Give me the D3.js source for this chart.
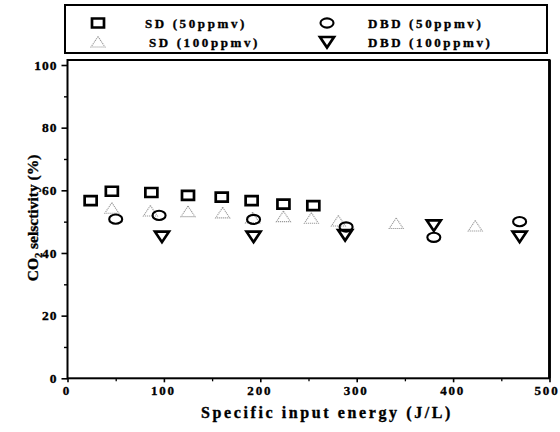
<!DOCTYPE html>
<html>
<head>
<meta charset="utf-8">
<script src="https://cdn.jsdelivr.net/npm/d3@7"></script>
<style>
  html, body { margin: 0; padding: 0; background: #fff; }
  svg { display: block; }
  text { font-family: "Liberation Serif", "Times New Roman", serif; font-weight: bold; fill: #000;
         stroke: #000; stroke-width: 0.35px; }
</style>
</head>
<body>
<svg id="chart" width="560" height="432"></svg>
<script>
// Specific input energy (J/L) and CO2 selectivity (%) for each discharge type
const sd50X   = [24, 46, 87, 125, 160, 191, 224, 255];
const sd50Y   = [56.7, 59.7, 59.3, 58.4, 57.8, 56.7, 55.6, 55.1];
const sd100X  = [46, 86, 125, 161, 192, 224, 253, 281, 341, 423];
const sd100Y  = [54.3, 53.4, 53.2, 52.8, 51.2, 51.6, 51.1, 50.2, 49.4, 48.6];
const dbd50X  = [50, 95, 193, 289, 380, 469];
const dbd50Y  = [50.8, 52.0, 50.7, 48.3, 45.0, 50.0];
const dbd100X = [98, 193, 288, 380, 469];
const dbd100Y = [45.2, 45.2, 45.7, 48.8, 45.2];

const xTicks = [0, 100, 200, 300, 400, 500];
const xMinor = [50, 150, 250, 350, 450];
const yTicks = [0, 20, 40, 60, 80, 100];
const yMinor = [10, 30, 50, 70, 90];

const seriesNames = ["SD (50ppmv)", "DBD (50ppmv)", "SD (100ppmv)", "DBD (100ppmv)"];

const svg = d3.select("#chart");
const x = d3.scaleLinear().domain([0, 500]).range([67.5, 549.5]);
const y = d3.scaleLinear().domain([0, 100]).range([378.3, 65]);

const frame = { left: 67.5, right: 549.5, top: 60, bottom: 378.3 };

// marker path generators, centred on (0,0)
const shapes = {
  square: () => "M-6,-4.5H6V4.5H-6Z",
  circle: () => "M-6.5,0A6.5,4.6 0 1,0 6.5,0A6.5,4.6 0 1,0 -6.5,0Z",
  up:     () => "M0,-5.5L7,5L-7,5Z",
  down:   () => "M-7,-5L7,-5L0,5.5Z"
};
const styles = {
  square: { stroke: "#000", width: 2.7, dash: null },
  circle: { stroke: "#000", width: 2.1, dash: null },
  up:     { stroke: "#9a9a9a", width: 1.1, dash: "1.2,0.8" },
  down:   { stroke: "#000", width: 2.7, dash: null }
};

// plot frame
svg.append("rect")
  .attr("x", frame.left).attr("y", frame.top)
  .attr("width", frame.right - frame.left).attr("height", frame.bottom - frame.top)
  .attr("fill", "none").attr("stroke", "#000").attr("stroke-width", 2);
svg.append("line")
  .attr("x1", frame.right).attr("x2", frame.right)
  .attr("y1", frame.top).attr("y2", frame.bottom)
  .attr("stroke", "#000").attr("stroke-width", 2.8);

// y axis
const yAxis = svg.append("g").attr("transform", `translate(${frame.left},0)`)
  .call(d3.axisLeft(y).tickValues(yTicks).tickSize(6).tickPadding(5).tickSizeOuter(0));
yAxis.select(".domain").remove();
yAxis.selectAll("line").attr("stroke-width", 1.6);
yAxis.selectAll("text").style("font-size", "13.5px").style("letter-spacing", "1px").attr("dx", 1);
const yMinorG = svg.append("g").attr("transform", `translate(${frame.left},0)`)
  .call(d3.axisLeft(y).tickValues(yMinor).tickSize(3.5).tickFormat(""));
yMinorG.select(".domain").remove();
yMinorG.selectAll("line").attr("stroke-width", 1.4);

// x axis
const xAxis = svg.append("g").attr("transform", `translate(0,${frame.bottom})`)
  .call(d3.axisBottom(x).tickValues(xTicks).tickSize(4).tickPadding(3).tickSizeOuter(0));
xAxis.select(".domain").remove();
xAxis.selectAll("line").attr("stroke-width", 1.6);
xAxis.selectAll("text").style("font-size", "13px").style("letter-spacing", "1.8px")
  .attr("dx", d => d === 500 ? -3 : -1);
const xMinorG = svg.append("g").attr("transform", `translate(0,${frame.bottom})`)
  .call(d3.axisBottom(x).tickValues(xMinor).tickSize(3).tickFormat(""));
xMinorG.select(".domain").remove();
xMinorG.selectAll("line").attr("stroke-width", 1.3);

// axis titles
svg.append("text")
  .attr("x", 327).attr("y", 418)
  .attr("text-anchor", "middle")
  .style("font-size", "16px").style("letter-spacing", "2.6px")
  .text("Specific input energy (J/L)");

const yTitle = svg.append("text")
  .attr("transform", "translate(38,218) rotate(-90)")
  .attr("text-anchor", "middle")
  .style("font-size", "15.5px");
yTitle.append("tspan").text("CO");
yTitle.append("tspan").attr("dy", 4).style("font-size", "10.5px").text("2");
yTitle.append("tspan").attr("dy", -4).text(" selsctivity (%)");

// data markers
function drawSeries(xs, ys, kind) {
  const st = styles[kind];
  svg.append("g").selectAll("path")
    .data(xs.map((d, i) => [d, ys[i]]))
    .join("path")
    .attr("d", shapes[kind]())
    .attr("transform", d => `translate(${x(d[0])},${y(d[1])})`)
    .attr("fill", "none")
    .attr("stroke", st.stroke)
    .attr("stroke-width", st.width)
    .attr("stroke-dasharray", st.dash);
}
drawSeries(sd100X, sd100Y, "up");
drawSeries(sd50X, sd50Y, "square");
drawSeries(dbd50X, dbd50Y, "circle");
drawSeries(dbd100X, dbd100Y, "down");

// legend
svg.append("rect")
  .attr("x", 65).attr("y", 5).attr("width", 482).attr("height", 48)
  .attr("fill", "none").attr("stroke", "#000").attr("stroke-width", 2);

const legendItems = [
  { name: seriesNames[0], kind: "square", mx: 98,  my: 23, tx: 145 },
  { name: seriesNames[1], kind: "circle", mx: 327, my: 23, tx: 368 },
  { name: seriesNames[2], kind: "up",     mx: 98,  my: 42, tx: 149 },
  { name: seriesNames[3], kind: "down",   mx: 327, my: 42, tx: 368 }
];
const lg = svg.append("g").selectAll("g").data(legendItems).join("g");
lg.append("path")
  .attr("d", d => shapes[d.kind]())
  .attr("transform", d => `translate(${d.mx},${d.my})`)
  .attr("fill", "none")
  .attr("stroke", d => styles[d.kind].stroke)
  .attr("stroke-width", d => styles[d.kind].width)
  .attr("stroke-dasharray", d => styles[d.kind].dash);
lg.append("text")
  .attr("x", d => d.tx).attr("y", d => d.my + 4.5)
  .style("font-size", "13px").style("letter-spacing", "2.6px")
  .text(d => d.name);
</script>
</body>
</html>
